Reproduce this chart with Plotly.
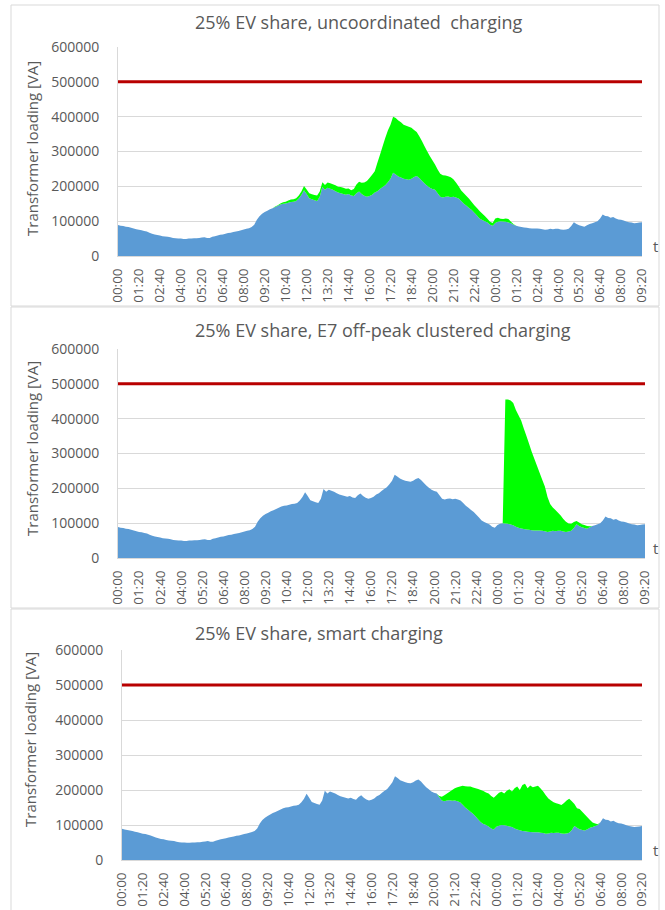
import plotly.graph_objects as go

# ---------------- data ----------------
tick_labels = ["00:00", "01:20", "02:40", "04:00", "05:20", "06:40", "08:00", "09:20",
               "10:40", "12:00", "13:20", "14:40", "16:00", "17:20", "18:40", "20:00",
               "21:20", "22:40", "00:00", "01:20", "02:40", "04:00", "05:20", "06:40",
               "08:00", "09:20"]

titles = ["25% EV share, uncoordinated  charging",
          "25% EV share, E7 off-peak clustered charging",
          "25% EV share, smart charging"]

transformer_limit = 500000

# base (non-EV) transformer loading, 10-minute steps from 00:00 to 09:20 next day
base_load = [
    89000, 87000, 86000, 84000, 83000, 81000, 79000, 77000, 75000, 74000,
    72000, 70000, 67000, 64000, 62000, 60000, 59000, 57000, 56000, 55000,
    54000, 52000, 51000, 50000, 50000, 49000, 49000, 50000, 50000, 51000,
    51000, 52000, 53000, 54000, 52000, 52000, 55000, 57000, 59000, 61000,
    62000, 64000, 66000, 67000, 69000, 70000, 72000, 74000, 76000, 78000,
    80000, 83000, 90000, 104000, 114000, 121000, 126000, 130000, 134000, 137000,
    141000, 144000, 148000, 150000, 151000, 153000, 155000, 156000, 158000, 165000,
    175000, 189000, 178000, 166000, 163000, 160000, 158000, 170000, 198000, 190000,
    196000, 193000, 190000, 186000, 182000, 180000, 178000, 176000, 178000, 174000,
    172000, 180000, 185000, 178000, 173000, 170000, 172000, 176000, 182000, 186000,
    192000, 198000, 203000, 212000, 222000, 239000, 234000, 228000, 225000, 222000,
    220000, 219000, 222000, 227000, 230000, 224000, 216000, 208000, 202000, 196000,
    192000, 190000, 180000, 170000, 168000, 170000, 171000, 169000, 170000, 168000,
    165000, 158000, 150000, 144000, 138000, 132000, 124000, 116000, 108000, 103000,
    100000, 96000, 90000, 87000, 95000, 98000, 100000, 99000, 98000, 96000,
    94000, 90000, 87000, 85000, 83000, 82000, 81000, 80000, 79000, 79000,
    79000, 78000, 77000, 75000, 76000, 78000, 77000, 78000, 78000, 76000,
    75000, 76000, 78000, 86000, 97000, 92000, 88000, 86000, 84000, 88000,
    92000, 94000, 97000, 100000, 108000, 119000, 115000, 114000, 110000, 112000,
    108000, 105000, 104000, 102000, 99000, 97000, 96000, 94000, 95000, 96000,
    97000]

ev_uncoordinated = [
    0, 0, 0, 0, 0, 0, 0, 0, 0, 0,
    0, 0, 0, 0, 0, 0, 0, 0, 0, 0,
    0, 0, 0, 0, 0, 0, 0, 0, 0, 0,
    0, 0, 0, 0, 0, 0, 0, 0, 0, 0,
    0, 0, 0, 0, 0, 0, 0, 0, 0, 0,
    0, 0, 0, 0, 0, 0, 0, 0, 0, 0,
    1000, 2000, 3000, 4000, 5000, 6000, 7000, 7000, 8000, 9000,
    10000, 12000, 13000, 14000, 14000, 15000, 16000, 15000, 14000, 14000,
    15000, 16000, 16000, 17000, 17000, 18000, 18000, 17000, 16000, 15000,
    20000, 25000, 28000, 32000, 38000, 45000, 52000, 57000, 61000, 82000,
    99000, 117000, 136000, 148000, 155000, 161000, 162000, 161000, 159000, 155000,
    154000, 152000, 146000, 135000, 126000, 120000, 114000, 107000, 99000, 91000,
    83000, 73000, 68000, 66000, 64000, 61000, 58000, 57000, 50000, 43000,
    35000, 30000, 30000, 28000, 26000, 23000, 22000, 22000, 21000, 19000,
    15000, 11000, 8000, 8000, 13000, 12000, 7000, 7000, 10000, 10000,
    4000, 1000, 0, 0, 0, 0, 0, 0, 0, 0,
    0, 0, 0, 0, 0, 0, 0, 0, 0, 0,
    0, 0, 0, 0, 0, 0, 0, 0, 0, 0,
    0, 0, 0, 0, 0, 0, 0, 0, 0, 0,
    0, 0, 0, 0, 0, 0, 0, 0, 0, 0,
    0]

ev_e7 = [
    0, 0, 0, 0, 0, 0, 0, 0, 0, 0,
    0, 0, 0, 0, 0, 0, 0, 0, 0, 0,
    0, 0, 0, 0, 0, 0, 0, 0, 0, 0,
    0, 0, 0, 0, 0, 0, 0, 0, 0, 0,
    0, 0, 0, 0, 0, 0, 0, 0, 0, 0,
    0, 0, 0, 0, 0, 0, 0, 0, 0, 0,
    0, 0, 0, 0, 0, 0, 0, 0, 0, 0,
    0, 0, 0, 0, 0, 0, 0, 0, 0, 0,
    0, 0, 0, 0, 0, 0, 0, 0, 0, 0,
    0, 0, 0, 0, 0, 0, 0, 0, 0, 0,
    0, 0, 0, 0, 0, 0, 0, 0, 0, 0,
    0, 0, 0, 0, 0, 0, 0, 0, 0, 0,
    0, 0, 0, 0, 0, 0, 0, 0, 0, 0,
    0, 0, 0, 0, 0, 0, 0, 0, 0, 0,
    0, 0, 0, 0, 0, 0, 0, 356000, 357000, 356000,
    351000, 335000, 323000, 310000, 289000, 268000, 247000, 225000, 206000, 186000,
    166000, 147000, 128000, 100000, 79000, 67000, 61000, 52000, 44000, 36000,
    29000, 23000, 20000, 17000, 9000, 10000, 9000, 9000, 8000, 3000,
    0, 0, 0, 0, 0, 0, 0, 0, 0, 0,
    0, 0, 0, 0, 0, 0, 0, 0, 0, 0,
    0]

ev_smart = [
    0, 0, 0, 0, 0, 0, 0, 0, 0, 0,
    0, 0, 0, 0, 0, 0, 0, 0, 0, 0,
    0, 0, 0, 0, 0, 0, 0, 0, 0, 0,
    0, 0, 0, 0, 0, 0, 0, 0, 0, 0,
    0, 0, 0, 0, 0, 0, 0, 0, 0, 0,
    0, 0, 0, 0, 0, 0, 0, 0, 0, 0,
    0, 0, 0, 0, 0, 0, 0, 0, 0, 0,
    0, 0, 0, 0, 0, 0, 0, 0, 0, 0,
    0, 0, 0, 0, 0, 0, 0, 0, 0, 0,
    0, 0, 0, 0, 0, 0, 0, 0, 0, 0,
    0, 0, 0, 0, 0, 0, 0, 0, 0, 0,
    0, 0, 0, 0, 0, 0, 0, 0, 0, 0,
    0, 0, 3000, 11000, 17000, 20000, 24000, 31000, 35000, 40000,
    45000, 54000, 61000, 66000, 72000, 75000, 81000, 87000, 92000, 94000,
    93000, 94000, 93000, 91000, 90000, 94000, 95000, 91000, 100000, 106000,
    102000, 115000, 123000, 115000, 131000, 136000, 124000, 133000, 129000, 131000,
    133000, 126000, 119000, 110000, 100000, 92000, 88000, 84000, 82000, 81000,
    88000, 94000, 97000, 82000, 63000, 56000, 58000, 52000, 46000, 34000,
    22000, 13000, 7000, 2000, 0, 0, 0, 0, 0, 0,
    0, 0, 0, 0, 0, 0, 0, 0, 0, 0,
    0]

ev_series = [ev_uncoordinated, ev_e7, ev_smart]

# ---------------- styling / layout ----------------
W, H = 665, 910
BLUE = "#5B9BD5"
GREEN = "#00FF00"
RED = "#B80000"
GRID = "#D9D9D9"
TXT = "#595959"
FONT = "Open Sans"

def px(x):
    return x / W

def py(y):
    return 1 - y / H

step = 10  # minutes per category
minutes = [i * step for i in range(len(base_load))]
tickvals = minutes[::8]

# plot areas in pixels: (left, right, top, bottom)
areas = [(118, 642, 47, 256), (118, 645, 349, 558), (122, 642, 650, 860)]
title_y = [22, 330, 633]
ytitle = [(32, 149), (32, 449), (30, 740)]
frames = [(11, 659, 5, 306), (11, 659, 307, 608), (11, 659, 609, 915)]

fig = go.Figure()
layout = dict(
    width=W, height=H, autosize=False,
    margin=dict(l=0, r=0, t=0, b=0, pad=0, autoexpand=False),
    paper_bgcolor="white", plot_bgcolor="white", showlegend=False,
    font=dict(family=FONT, color=TXT), hovermode=False,
)
annotations = []
shapes = []

for k in range(3):
    sfx = "" if k == 0 else str(k + 1)
    xa, ya = "x" + sfx, "y" + sfx
    l, r, t, b = areas[k]
    fig.add_trace(go.Scatter(x=minutes, y=base_load, stackgroup="s%d" % k, mode="none",
                             fillcolor=BLUE, xaxis=xa, yaxis=ya, hoverinfo="skip"))
    fig.add_trace(go.Scatter(x=minutes, y=ev_series[k], stackgroup="s%d" % k, mode="none",
                             fillcolor=GREEN, xaxis=xa, yaxis=ya, hoverinfo="skip"))
    fig.add_trace(go.Scatter(x=[minutes[0], minutes[-1]],
                             y=[transformer_limit, transformer_limit],
                             mode="lines", line=dict(color=RED, width=3),
                             xaxis=xa, yaxis=ya, hoverinfo="skip"))
    layout["xaxis" + sfx] = dict(
        domain=[px(l), px(r)], anchor=ya, range=[minutes[0], minutes[-1]],
        tickmode="array", tickvals=tickvals, ticktext=tick_labels, tickangle=-90,
        tickfont=dict(size=13.5, color=TXT, family=FONT), showgrid=False, zeroline=False,
        showline=True, linecolor=GRID, linewidth=1,
        ticks="outside", ticklen=6, tickcolor="rgba(0,0,0,0)", automargin=False,
    )
    layout["yaxis" + sfx] = dict(
        domain=[py(b), py(t)], anchor=xa, range=[0, 600000], dtick=100000,
        tickformat="d", tickfont=dict(size=14, color=TXT, family=FONT),
        showgrid=True, gridcolor=GRID, gridwidth=1, zeroline=False,
        showline=True, linecolor=GRID, linewidth=1,
        ticks="outside", ticklen=15, tickcolor="rgba(0,0,0,0)", automargin=False,
    )
    annotations.append(dict(text=titles[k], x=px(193), y=py(title_y[k]), xref="paper",
                            yref="paper", xanchor="left", yanchor="middle", showarrow=False,
                            font=dict(size=18, color=TXT, family=FONT)))
    annotations.append(dict(text="Transformer loading [VA]", x=px(ytitle[k][0]),
                            y=py(ytitle[k][1]), xref="paper", yref="paper", textangle=-90,
                            xanchor="center", yanchor="middle", showarrow=False,
                            font=dict(size=15, color=TXT, family=FONT)))
    annotations.append(dict(text="t", x=px(655), y=py(b - 10), xref="paper", yref="paper",
                            xanchor="center", yanchor="middle", showarrow=False,
                            font=dict(size=15, color=TXT, family=FONT)))
    fl, fr, ft, fb = frames[k]
    shapes.append(dict(type="rect", xref="paper", yref="paper", x0=px(fl), x1=px(fr),
                       y0=py(fb), y1=py(ft), line=dict(color=GRID, width=1),
                       fillcolor="rgba(0,0,0,0)", layer="below"))

layout["annotations"] = annotations
layout["shapes"] = shapes
fig.update_layout(**layout)
fig.write_html("out.html", config={"displayModeBar": False, "staticPlot": True},
               post_script="document.body.style.margin='0';document.body.style.overflow='hidden';")
